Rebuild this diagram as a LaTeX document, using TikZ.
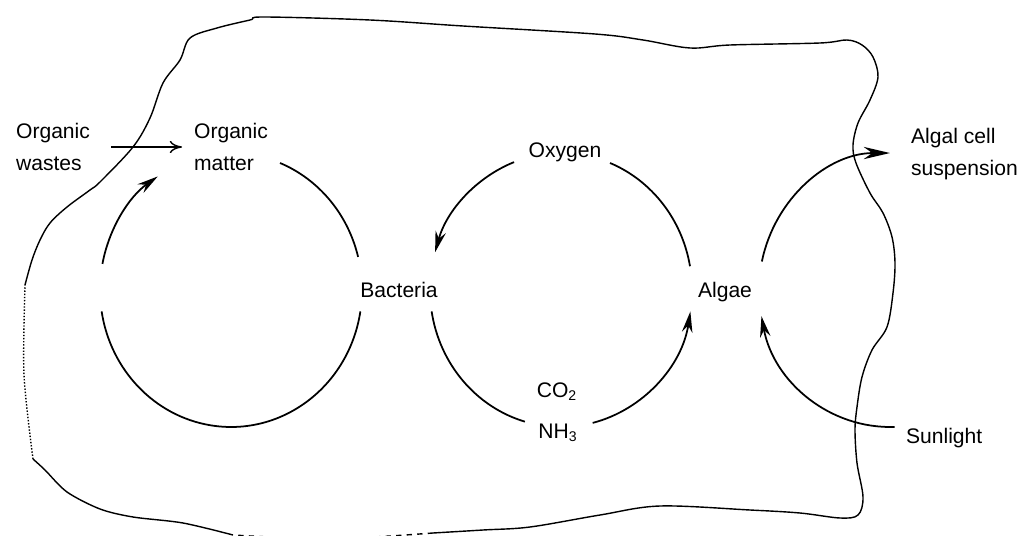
\documentclass[tikz,border=0pt]{standalone}
\usepackage{fontspec}
\setmainfont{Liberation Sans}
\usetikzlibrary{positioning,arrows.meta,calc}

\begin{document}
\begin{tikzpicture}[x=0.02cm, y=0.02cm,
        lbl/.style={font=\fontsize{12}{18}\selectfont, align=left, inner sep=1pt},
        rad/.style={x radius=2.62cm, y radius=2.74cm},
        cyc/.style={line width=1pt},
        cyctip/.style={cyc, -{Stealth[length=12pt, width=6pt]}},
        rim/.style={line width=0.8pt},
      ]
        \useasboundingbox (0,0) rectangle (1031,535);

        % circle centres
        \coordinate (lc) at (231,245);
        \coordinate (mc) at (561,245);
        \coordinate (rc) at (890,245);

        % labels
        \node[lbl, anchor=west] (wastes) at (14,388) {Organic\\wastes};
        \node[lbl, anchor=west] (matter) at (192,388) {Organic\\matter};
        \node[lbl] (oxygen) at (565,383) {Oxygen};
        \node[lbl] (bacteria) at (399,245) {Bacteria};
        \node[lbl] (algae) at (725,243) {Algae};
        \node[lbl] (co2) at (557,143) {CO\textsubscript{2}};
        \node[lbl] (nh3) at (558,102) {NH\textsubscript{3}};
        \node[lbl, anchor=west] (cells) at (909,381) {Algal cell\\suspension};
        \node[lbl, anchor=west] (sun) at (904,97) {Sunlight};

        % input of wastes
        \draw[line width=0.8pt, -{To[length=7pt, width=7pt]}, shorten <=0.38cm, shorten >=0.2cm]
          (wastes) -- (matter);

        % pond boundary
        \draw[rim] plot[smooth, tension=0.55] coordinates {
          (25,250) (32,275) (40,295) (50,312) (67,328) (90,345) (100,353)
          (133,388) (150,417) (163,452) (180,475) (190,497) (217,507) (250,515)
          (264,518) (370,515) (463,509) (595,501) (643,495) (690,487) (730,490)
          (820,492) (847,495) (862,490) (873,478) (878,458) (870,435) (858,412)
          (853,390) (856,372) (870,342) (883,322) (892,298) (895,272) (893,242)
          (887,208) (872,185) (862,158) (857,128) (855,105) (857,72) (863,38)
          (858,20) (840,17) (800,22) (750,25) (660,29) (600,20) (530,8)
          (483,5) (433,2)};
        \draw[rim, dashed] plot[smooth] coordinates {(433,2) (330,-4) (233,0)};
        \draw[rim] plot[smooth] coordinates {
          (233,0) (183,12) (133,18) (100,26) (67,43) (45,65) (33,76)};
        \draw[rim, densely dotted] plot[smooth] coordinates {(33,76) (24,160) (25,250)};

        % organic matter -- bacteria cycle
        \draw[cyctip] ($(lc)+(169:2.62cm and 2.74cm)$) arc[rad, start angle=169, end angle=124];
        \draw[cyc] ($(lc)+(68:2.62cm and 2.74cm)$) arc[rad, start angle=68, end angle=14];
        \draw[cyc] ($(lc)+(-9:2.62cm and 2.74cm)$) arc[rad, start angle=-9, end angle=-171];

        % bacteria -- algae cycle
        \draw[cyctip] ($(mc)+(111:2.62cm and 2.74cm)$) arc[rad, start angle=111, end angle=164];
        \draw[cyc] ($(mc)+(68:2.62cm and 2.74cm)$) arc[rad, start angle=68, end angle=10];
        \draw[cyc] ($(mc)+(189:2.62cm and 2.74cm)$) arc[rad, start angle=189, end angle=254];
        \draw[cyctip] ($(mc)+(284:2.62cm and 2.74cm)$) arc[rad, start angle=284, end angle=351];

        % algae -- sunlight
        \draw[cyc, -{Stealth[length=15pt, width=7pt]}] ($(rc)+(168:2.62cm and 2.74cm)$)
          arc[rad, start angle=168, end angle=90];
        \draw[cyctip] ($(rc)+(272:2.62cm and 2.74cm)$) arc[rad, start angle=272, end angle=191];
      \end{tikzpicture}
\end{document}
